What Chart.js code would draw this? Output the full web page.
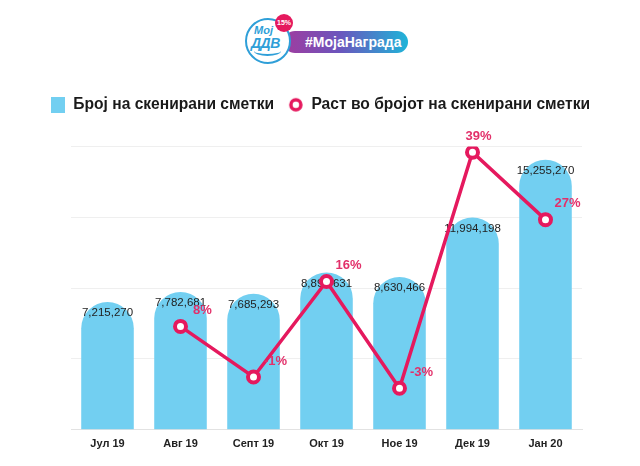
<!DOCTYPE html>
<html>
<head>
<meta charset="utf-8">
<script src="https://cdn.jsdelivr.net/npm/chart.js@4.4.1/dist/chart.umd.min.js"></script>
<style>
  body { margin: 0; background: #fff; font-family: "Liberation Sans", Arial, sans-serif; }
  #page { position: relative; width: 640px; height: 466px; overflow: hidden; }
  .pill { position: absolute; left: 284px; top: 31px; width: 124px; height: 22px; border-radius: 11px;
          background: linear-gradient(90deg, #a03c9f 0%, #6b55bd 45%, #1fb4d8 100%);
          color: #fff; font-weight: bold; font-size: 14px; line-height: 22px; padding-left: 21px; box-sizing: border-box; }
  .ring { position: absolute; left: 245px; top: 18px; width: 46px; height: 46px; border-radius: 50%;
          border: 2.5px solid #2f9fd8; background: #fff; box-sizing: border-box; }
  .moj { position: absolute; left: 254px; top: 24px; color: #2f9fd8; font: italic bold 11px "Liberation Sans", Arial, sans-serif; }
  .ddv { position: absolute; left: 251px; top: 35px; color: #2f9fd8; font: italic bold 14px "Liberation Sans", Arial, sans-serif; letter-spacing: -0.5px; }
  .smile { position: absolute; left: 254px; top: 46px; width: 27px; height: 8px; border-bottom: 2.5px solid #2f9fd8; border-radius: 0 0 50% 50%; }
  .badge { position: absolute; left: 275px; top: 14px; width: 18px; height: 18px; border-radius: 50%; background: #e5195e;
           color: #fff; font: bold 7px "Liberation Sans", Arial, sans-serif; line-height: 18px; text-align: center; }
  #wrap { position: absolute; left: 0; top: 80px; width: 640px; height: 386px; }
</style>
</head>
<body>
<div id="page">
  <div class="pill">#МојаНаграда</div>
  <div class="ring"></div>
  <div class="moj">Мој</div>
  <div class="ddv">ДДВ</div>
  <div class="smile"></div>
  <div class="badge">15%</div>
  <div id="wrap"><canvas id="chart"></canvas></div>
</div>
<script>
const months = ['Јул 19', 'Авг 19', 'Септ 19', 'Окт 19', 'Ное 19', 'Дек 19', 'Јан 20'];
const scannedBills = [7215270, 7782681, 7685293, 8893631, 8630466, 11994198, 15255270];
const growthPct = [null, 8, -1, 16, -3, 39, 27];
const seriesNames = ['Број на скенирани сметки', 'Раст во бројот на скенирани сметки'];

const BLUE = '#72cff1';
const PINK = '#e5195e';

function swatch(w, h, draw) {
    const c = document.createElement('canvas');
    c.width = w;
    c.height = h;
    draw(c.getContext('2d'));
    return c;
}
const barSwatch = swatch(14, 16, g => { g.fillStyle = BLUE; g.fillRect(0, 0, 14, 16); });
const lineSwatch = swatch(16, 16, g => {
    g.beginPath();
    g.arc(8, 8, 5, 0, Math.PI * 2);
    g.fillStyle = '#fff';
    g.fill();
    g.lineWidth = 3.5;
    g.strokeStyle = PINK;
    g.stroke();
});

// extra space under the legend
const legendGap = {
    id: 'legendGap',
    beforeInit(chart) {
        const fit = chart.legend.fit;
        chart.legend.fit = function () {
            fit.bind(chart.legend)();
            this.height += 24;
        };
    }
};

const valueLabels = {
    id: 'valueLabels',
    afterDatasetDraw(chart, args) {
        if (args.index !== 0) return;
        const ctx = chart.ctx;
        ctx.save();
        ctx.font = '11.5px "Liberation Sans", Arial, sans-serif';
        ctx.fillStyle = '#222';
        ctx.textAlign = 'center';
        ctx.textBaseline = 'middle';
        args.meta.data.forEach((bar, i) => {
            ctx.fillText(scannedBills[i].toLocaleString('en-US'), bar.x, bar.y + 11);
        });
        ctx.restore();
    },
    afterDatasetsDraw(chart) {
        const ctx = chart.ctx;
        const meta = chart.getDatasetMeta(1);
        const peak = Math.max(...growthPct.filter(v => v !== null));
        ctx.save();
        ctx.font = 'bold 13px "Liberation Sans", Arial, sans-serif';
        ctx.fillStyle = '#e2306a';
        ctx.textAlign = 'center';
        ctx.textBaseline = 'middle';
        meta.data.forEach((pt, i) => {
            if (growthPct[i] === null) return;
            const dx = growthPct[i] === peak ? 6 : 22;
            ctx.fillText(growthPct[i] + '%', pt.x + dx, pt.y - 16);
        });
        ctx.restore();
    }
};

new Chart(document.getElementById('chart'), {
    data: {
        labels: months,
        datasets: [{
            type: 'bar',
            label: seriesNames[0],
            data: scannedBills,
            backgroundColor: BLUE,
            borderRadius: 40,
            borderSkipped: 'start',
            barPercentage: 0.9,
            categoryPercentage: 0.8,
            yAxisID: 'y',
            order: 1
        }, {
            type: 'line',
            label: seriesNames[1],
            data: growthPct,
            borderColor: PINK,
            borderWidth: 3.5,
            pointRadius: 5.5,
            pointBorderWidth: 4,
            pointBackgroundColor: '#fff',
            pointBorderColor: PINK,
            tension: 0,
            yAxisID: 'y1',
            order: 0
        }]
    },
    options: {
        responsive: true,
        maintainAspectRatio: false,
        animation: false,
        layout: { padding: { left: 0, right: 0, top: 3, bottom: 15 } },
        plugins: {
            tooltip: { enabled: false },
            legend: {
                position: 'top',
                labels: {
                    usePointStyle: true,
                    color: '#1a1a1a',
                    padding: 14,
                    font: { family: '"Liberation Sans", Arial, sans-serif', size: 15.6, weight: 'bold' },
                    generateLabels(chart) {
                        const items = Chart.defaults.plugins.legend.labels.generateLabels(chart);
                        items.sort((a, b) => a.datasetIndex - b.datasetIndex);
                        items[0].pointStyle = barSwatch;
                        items[1].pointStyle = lineSwatch;
                        return items;
                    }
                }
            }
        },
        scales: {
            x: {
                grid: { display: false },
                border: { color: '#e2e2e2' },
                ticks: {
                    color: '#222',
                    padding: 0,
                    font: { family: '"Liberation Sans", Arial, sans-serif', size: 11, weight: 'bold' }
                }
            },
            y: {
                min: 0,
                max: 16000000,
                ticks: { display: false, stepSize: 4000000 },
                grid: { color: '#efefef', drawTicks: false },
                border: { display: false },
                afterFit(scale) { scale.width = 71; }
            },
            y1: {
                position: 'right',
                min: -10.4,
                max: 40,
                ticks: { display: false },
                grid: { display: false },
                border: { display: false },
                afterFit(scale) { scale.width = 58; }
            }
        }
    },
    plugins: [legendGap, valueLabels]
});
</script>
</body>
</html>
